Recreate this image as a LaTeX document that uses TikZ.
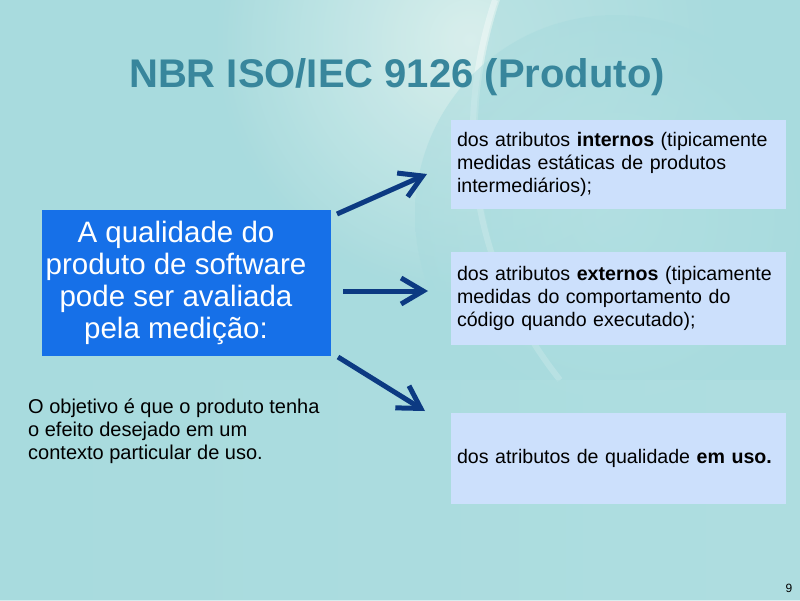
\documentclass[tikz,border=0pt]{standalone}
\usepackage{fontspec}
\setmainfont{Liberation Sans}
\usetikzlibrary{arrows.meta}
\definecolor{bgbase}{RGB}{168,219,222}
\definecolor{bglight}{RGB}{222,241,238}
\definecolor{titlecol}{RGB}{56,134,156}
\definecolor{bluebox}{RGB}{22,112,232}
\definecolor{lightbox}{RGB}{204,224,252}
\definecolor{navy}{RGB}{12,58,130}
\tikzset{
  rbox/.style={fill=lightbox, inner xsep=6pt, inner ysep=4pt, minimum width=335pt, text width=323pt,
    align=left, font=\fontsize{19.6}{23}\selectfont},
  arr/.style={draw=navy, line width=5pt, -{Straight Barb[length=22pt,width=26pt,line width=5pt]}},
}
\begin{document}
\begin{tikzpicture}[x=1pt,y=-1pt]
\useasboundingbox (0,0) rectangle (800,600);
% background
\fill[bgbase] (0,0) rectangle (800,600);
\shade[inner color=bglight, outer color=bgbase, opacity=0.9] (470,40) circle (260);
\fill[bgbase, opacity=0.6] (500,0) .. controls (460,120) and (470,260) .. (560,380) -- (800,380) -- (800,0) -- cycle;
\draw[white, opacity=0.35, line width=6pt] (495,0) .. controls (455,120) and (465,260) .. (560,380);
\shade[inner color=bgbase!80!white, outer color=bgbase, opacity=0.5] (615,215) circle (200);
\shade[left color=bgbase, right color=bgbase!85!white, opacity=0.5] (0,380) rectangle (800,600);
% title
\node[font=\bfseries\fontsize{40}{48}\selectfont, text=titlecol, inner sep=0pt] (title) at (397,77)
  {NBR ISO/IEC 9126 (Produto)};
% blue box
\node[fill=bluebox, minimum width=289pt, minimum height=146pt, inner sep=0pt] (q) at (186.5,283) {};
\node[text=white, align=center, inner sep=0pt, font=\fontsize{29.5}{32}\selectfont] (qt) at (176,283)
  {A qualidade do\\produto de software\\pode ser avaliada\\pela medição:};
% left text
\node[anchor=west, align=left, inner sep=0pt, font=\fontsize{20}{23}\selectfont] (obj) at (28,431)
  {O objetivo é que o produto tenha\\o efeito desejado em um\\contexto particular de uso.};
% right boxes
\node[rbox, minimum height=89pt] (b1) at (618.5,164.5)
  {dos atributos \textbf{internos} (tipicamente\\medidas estáticas de produtos\\intermediários);};
\node[rbox, minimum height=93pt] (b2) at (618.5,298.5)
  {dos atributos \textbf{externos} (tipicamente\\medidas do comportamento do\\código quando executado);};
\node[rbox, minimum height=91pt] (b3) at (618.5,458.5)
  {dos atributos de qualidade \textbf{em uso.}};
% arrows
\coordinate (s1) at (337,214);
\coordinate (e1) at (427,174);
\coordinate (s2) at (343,291);
\coordinate (e2) at (428,291);
\coordinate (s3) at (338,357);
\coordinate (e3) at (425,411);
\draw[arr] (s1) -- (e1);
\draw[arr] (s2) -- (e2);
\draw[arr] (s3) -- (e3);
% page number
\node[font=\fontsize{12}{14}\selectfont, inner sep=0pt] (pg) at (789,588) {9};
\end{tikzpicture}
\end{document}
